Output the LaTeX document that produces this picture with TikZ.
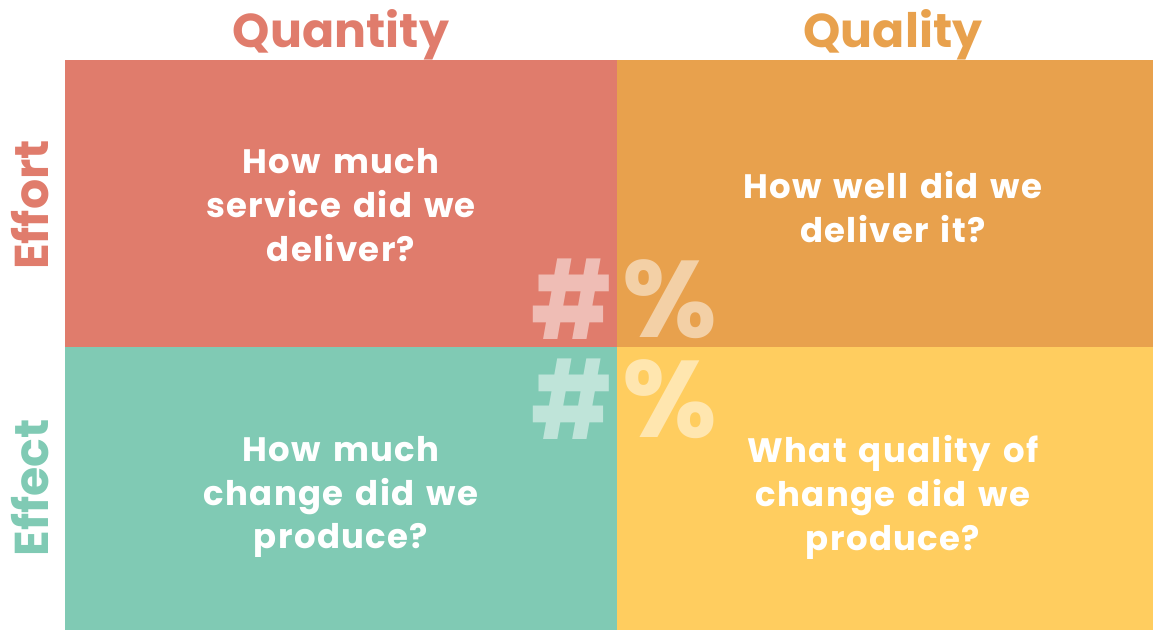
\documentclass[tikz,border=0pt]{standalone}
\usepackage{fontspec}
\setmainfont{Poppins}
\newfontfamily\questionfont{Poppins}[LetterSpace=4, WordSpace=1.4]
\definecolor{qred}{HTML}{E07C6C}
\definecolor{qorange}{HTML}{E8A14D}
\definecolor{qgreen}{HTML}{80CAB4}
\definecolor{qyellow}{HTML}{FFCD5F}
\begin{document}
\begin{tikzpicture}[
    x=0.02cm, y=-0.02cm,
    question/.style={text=white, font=\questionfont\fontsize{19.3}{25}\selectfont\bfseries,
                     align=center, inner sep=0pt},
    heading/.style={font=\fontsize{27}{30}\selectfont\bfseries, inner sep=0pt, anchor=base},
    sidelabel/.style={heading, rotate=90},
    sign/.style={text=white, text opacity=0.5, inner sep=0pt,
                 font=\fontsize{62}{62}\selectfont\bfseries}
  ]
  \useasboundingbox (0,0) rectangle (1153,630);

  % the four quadrants
  \fill[qred]    (65,60)   rectangle (617,347);
  \fill[qorange] (617,60)  rectangle (1153,347);
  \fill[qgreen]  (65,347)  rectangle (617,630);
  \fill[qyellow] (617,347) rectangle (1153,630);

  % column and row headings
  \node[heading, text=qred]    (quantity) at (341,47) {Quantity};
  \node[heading, text=qorange] (quality)  at (893,47) {Quality};
  \node[sidelabel, text=qred]   (effort) at (49,205) {Effort};
  \node[sidelabel, text=qgreen] (effect) at (49,488) {Effect};

  % questions
  \node[question] (howmuch)  at (341,205) {How much\\service did we\\deliver?};
  \node[question] (howwell)  at (893,207) {How well did we\\deliver it?};
  \node[question] (change)   at (341,497) {How much\\change did we\\produce?};
  \node[question] (whatqual) at (893,497) {What quality of\\change did we\\produce?};

  % number and percent signs across the middle
  \node[sign, xscale=0.82] (numtop) at (572,299) {\#};
  \node[sign] (pcttop) at (670,299) {\%};
  \node[sign, xscale=0.82] (numbot) at (572,399) {\#};
  \node[sign] (pctbot) at (670,399) {\%};
\end{tikzpicture}
\end{document}
